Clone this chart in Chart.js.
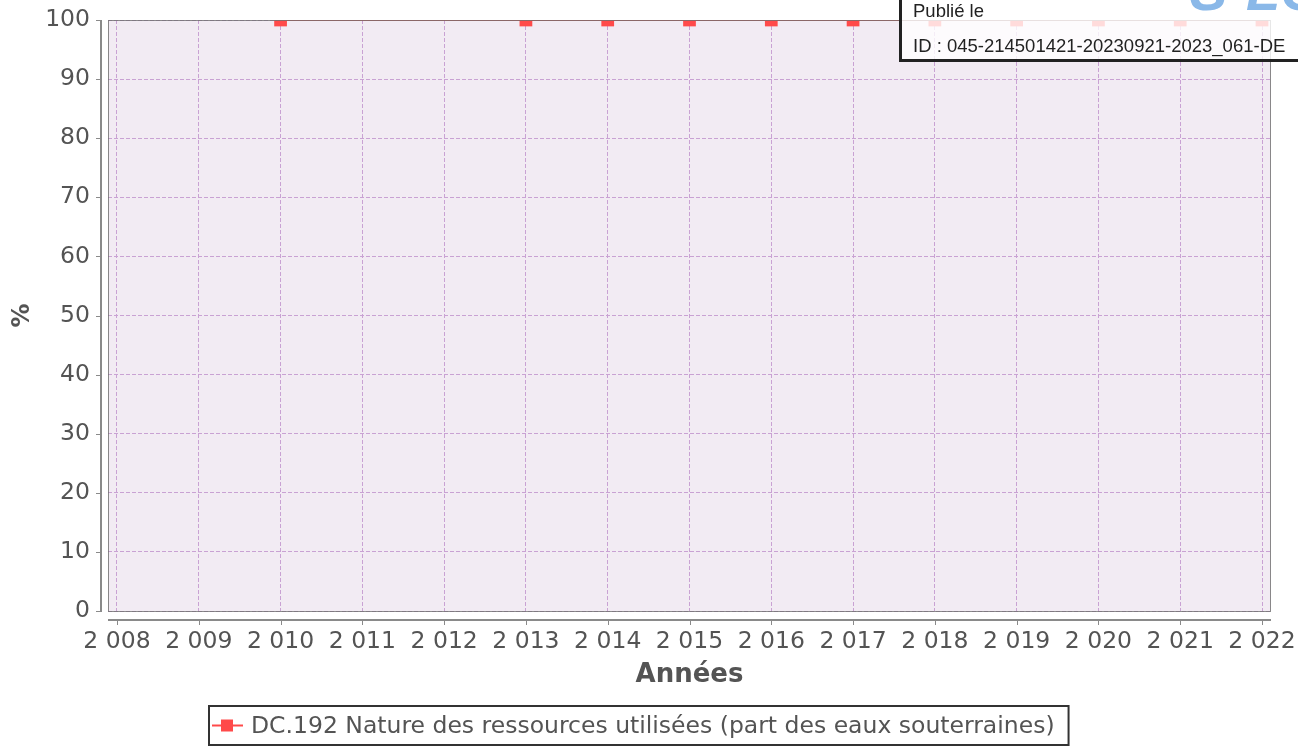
<!DOCTYPE html>
<html>
<head>
<meta charset="utf-8">
<script src="https://cdn.jsdelivr.net/npm/chart.js@4"></script>
<style>
  html, body { margin: 0; padding: 0; background: #fff; }
  #wrap { position: relative; width: 1298px; height: 752px; overflow: hidden; }
  canvas { position: absolute; left: 0; top: 0; }
  #stamp { position: absolute; left: 899px; top: -10px; width: 420px; height: 72px;
           background: rgba(255,255,255,0.8); border: 3px solid #222; box-sizing: border-box;
           font-family: "Liberation Sans", Arial, sans-serif; font-size: 18.5px; color: #222; }
  #stamp .l1 { position: absolute; left: 11px; top: 7px; }
  #stamp .l2 { position: absolute; left: 11px; top: 42px; }
  #logo { position: absolute; left: 1190px; top: -42px; font-family: "Liberation Sans", Arial, sans-serif;
          font-style: italic; font-weight: bold; font-size: 56px; color: #8ab8e8; }
</style>
</head>
<body>
<div id="wrap">
  <canvas id="c" width="1298" height="752"></canvas>
  <div id="stamp"><div class="l1">Publié le</div><div class="l2">ID : 045-214501421-20230921-2023_061-DE</div></div>
  <div id="logo">S²LO</div>
</div>
<script>
// ---- data ----
const years = [2010, 2013, 2014, 2015, 2016, 2017, 2018, 2019, 2020, 2021, 2022];
const values = [100, 100, 100, 100, 100, 100, 100, 100, 100, 100, 100];
const xTickValues = [2008, 2009, 2010, 2011, 2012, 2013, 2014, 2015, 2016, 2017, 2018, 2019, 2020, 2021, 2022];
const xTickLabels = ['2 008','2 009','2 010','2 011','2 012','2 013','2 014','2 015','2 016','2 017','2 018','2 019','2 020','2 021','2 022'];
const yTickValues = [0, 10, 20, 30, 40, 50, 60, 70, 80, 90, 100];
const seriesLabel = 'DC.192 Nature des ressources utilisées (part des eaux souterraines)';
const xTitle = 'Années';
const yTitle = '%';

const FONT = '"DejaVu Sans", sans-serif';
const TXT = '#545454';

const plotBg = {
  id: 'plotBg',
  beforeDraw(chart) {
    const {ctx, chartArea: a} = chart;
    ctx.save();
    ctx.fillStyle = '#f2ebf3';
    ctx.fillRect(a.left, a.top, a.right - a.left, a.bottom - a.top);
    ctx.restore();
  },
  afterDatasetsDraw(chart) {
    const {ctx, chartArea: a, scales} = chart;
    ctx.save();
    ctx.strokeStyle = 'rgba(110,110,110,0.8)';
    ctx.lineWidth = 1;
    ctx.strokeRect(a.left + 0.5, a.top + 0.5, a.right - a.left - 1, a.bottom - a.top);
    ctx.strokeStyle = '#8a8a8a';
    ctx.lineWidth = 2;
    const ax = a.left - 7;
    ctx.beginPath(); ctx.moveTo(ax, a.top); ctx.lineTo(ax, a.bottom + 1); ctx.stroke();
    const ay = a.bottom + 9;
    ctx.beginPath(); ctx.moveTo(a.left, ay); ctx.lineTo(a.right, ay); ctx.stroke();
    ctx.lineWidth = 1;
    yTickValues.forEach(v => {
      const y = Math.round(scales.y.getPixelForValue(v)) + 0.5;
      ctx.beginPath(); ctx.moveTo(ax - 5, y); ctx.lineTo(ax, y); ctx.stroke();
    });
    xTickValues.forEach(v => {
      const x = Math.round(scales.x.getPixelForValue(v)) + 0.5;
      ctx.beginPath(); ctx.moveTo(x, ay); ctx.lineTo(x, ay + 5); ctx.stroke();
    });
    ctx.restore();
  },
  afterDraw(chart) {
    const {ctx} = chart;
    const ds = chart.data.datasets[0];
    ctx.save();
    ctx.font = '23.5px ' + FONT;
    const tw = ctx.measureText(ds.label).width;
    const bx = 209, by = 706, bh = 39;
    const bw = 43 + tw + 13;
    ctx.fillStyle = '#fff';
    ctx.fillRect(bx, by, bw, bh);
    ctx.strokeStyle = '#333';
    ctx.lineWidth = 2;
    ctx.strokeRect(bx, by, bw, bh);
    const cy = by + bh / 2;
    ctx.strokeStyle = ds.borderColor;
    ctx.lineWidth = 2;
    ctx.beginPath(); ctx.moveTo(bx + 3, cy); ctx.lineTo(bx + 34, cy); ctx.stroke();
    ctx.fillStyle = ds.pointBackgroundColor;
    ctx.fillRect(bx + 12, cy - 6, 12, 12);
    ctx.fillStyle = TXT;
    ctx.textBaseline = 'middle';
    ctx.fillText(ds.label, bx + 42, cy + 1);
    ctx.restore();
  }
};

new Chart(document.getElementById('c'), {
  type: 'line',
  data: {
    datasets: [{
      label: seriesLabel,
      data: years.map((x, i) => ({x, y: values[i]})),
      borderColor: '#ff4a4a',
      backgroundColor: '#ff4a4a',
      pointBackgroundColor: '#ff4a4a',
      pointBorderWidth: 0,
      borderWidth: 2,
      pointStyle: 'rect',
      pointRadius: 9,
      tension: 0,
      clip: 0
    }]
  },
  options: {
    responsive: false,
    animation: false,
    events: [],
    layout: { padding: { left: 0, right: 27, top: 20, bottom: 0 } },
    plugins: { legend: { display: false }, tooltip: { enabled: false } },
    scales: {
      x: {
        type: 'linear',
        min: 2007.89, max: 2022.11,
        afterBuildTicks: s => { s.ticks = xTickValues.map(v => ({value: v})); },
        afterFit: s => { s.height = 141; s.paddingLeft = 0; s.paddingRight = 0; },
        ticks: {
          autoSkip: false, maxRotation: 0,
          callback: (v) => xTickLabels[xTickValues.indexOf(v)],
          font: { family: FONT, size: 23.5 }, color: TXT, padding: 17
        },
        grid: { color: '#c9a2d3', lineWidth: 1, drawTicks: false },
        border: { display: false, dash: [4, 2] },
        title: { display: true, text: xTitle, font: { family: FONT, size: 26, weight: 'bold' }, color: TXT,
                 padding: { top: 0, bottom: 61 } }
      },
      y: {
        min: 0, max: 100,
        afterBuildTicks: s => { s.ticks = yTickValues.map(v => ({value: v})); },
        afterFit: s => { s.width = 108; s.paddingTop = 0; s.paddingBottom = 0; },
        ticks: { font: { family: FONT, size: 23.5 }, color: TXT, padding: 18 },
        grid: { color: '#c9a2d3', lineWidth: 1, drawTicks: false },
        border: { display: false, dash: [4, 2] },
        title: { display: true, text: yTitle, font: { family: FONT, size: 24, weight: 'bold' }, color: TXT,
                 padding: { top: 8, bottom: 0 } }
      }
    }
  },
  plugins: [plotBg]
});
</script>
</body>
</html>
